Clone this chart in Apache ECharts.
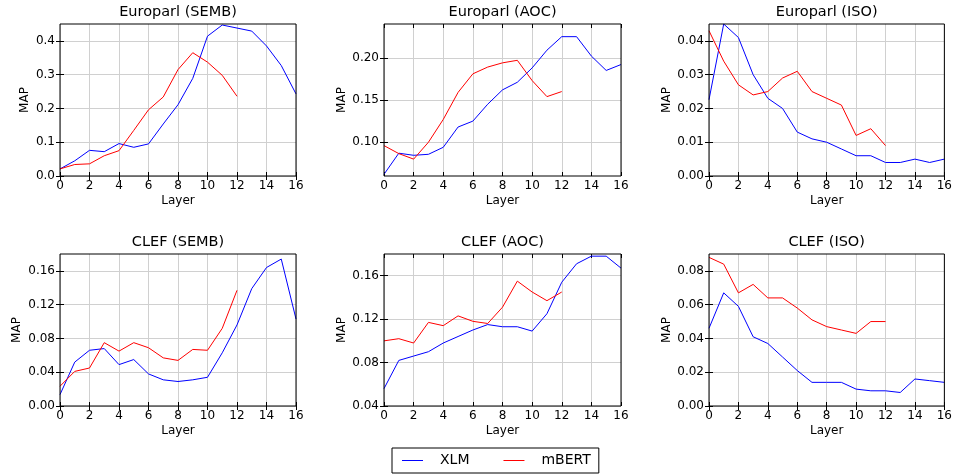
<!DOCTYPE html>
<html>
<head>
<meta charset="utf-8">
<title>MAP per layer</title>
<script src="https://cdn.jsdelivr.net/npm/echarts@6/dist/echarts.min.js"></script>
<style>
	html, body { margin: 0; padding: 0; background: #fff; }
	#main { width: 955px; height: 475px; }
</style>
</head>
<body>
<div id="main"></div>
<script>
var layersXLM = [0, 1, 2, 3, 4, 5, 6, 7, 8, 9, 10, 11, 12, 13, 14, 15, 16];
var layersBERT = [0, 1, 2, 3, 4, 5, 6, 7, 8, 9, 10, 11, 12];

var titles = ['Europarl (SEMB)', 'Europarl (AOC)', 'Europarl (ISO)', 'CLEF (SEMB)', 'CLEF (AOC)', 'CLEF (ISO)'];

// MAP per layer
var xlmEuroSemb = [0.021, 0.045, 0.076, 0.072, 0.096, 0.085, 0.095, 0.154, 0.211, 0.289, 0.414, 0.447, 0.438, 0.429, 0.385, 0.327, 0.243];
var bertEuroSemb = [0.021, 0.034, 0.036, 0.060, 0.075, 0.135, 0.196, 0.234, 0.315, 0.365, 0.337, 0.298, 0.236];
var xlmEuroAoc = [0.062, 0.087, 0.0845, 0.0857, 0.094, 0.118, 0.125, 0.145, 0.162, 0.171, 0.188, 0.209, 0.225, 0.225, 0.202, 0.185, 0.192];
var bertEuroAoc = [0.096, 0.0865, 0.080, 0.100, 0.127, 0.159, 0.181, 0.189, 0.194, 0.197, 0.173, 0.154, 0.160];
var xlmEuroIso = [0.0226, 0.045, 0.041, 0.030, 0.023, 0.020, 0.013, 0.011, 0.010, 0.008, 0.006, 0.006, 0.004, 0.004, 0.005, 0.004, 0.005];
var bertEuroIso = [0.043, 0.034, 0.027, 0.024, 0.025, 0.029, 0.031, 0.025, 0.023, 0.021, 0.012, 0.014, 0.009];
var xlmClefSemb = [0.0135, 0.052, 0.066, 0.068, 0.049, 0.055, 0.038, 0.031, 0.029, 0.031, 0.034, 0.063, 0.096, 0.139, 0.164, 0.174, 0.103];
var bertClefSemb = [0.0234, 0.041, 0.045, 0.075, 0.065, 0.075, 0.069, 0.057, 0.054, 0.067, 0.066, 0.092, 0.137];
var xlmClefAoc = [0.056, 0.082, 0.086, 0.090, 0.098, 0.104, 0.110, 0.115, 0.113, 0.113, 0.109, 0.125, 0.154, 0.171, 0.178, 0.178, 0.167];
var bertClefAoc = [0.100, 0.102, 0.098, 0.117, 0.114, 0.123, 0.118, 0.116, 0.131, 0.155, 0.145, 0.137, 0.145];
var xlmClefIso = [0.046, 0.067, 0.059, 0.041, 0.037, 0.029, 0.021, 0.014, 0.014, 0.014, 0.010, 0.009, 0.009, 0.008, 0.016, 0.015, 0.014];
var bertClefIso = [0.088, 0.084, 0.067, 0.072, 0.064, 0.064, 0.058, 0.051, 0.047, 0.045, 0.043, 0.050, 0.050];

// y tick labels of each panel
var yTicksEuroSemb = [0, 0.1, 0.2, 0.3, 0.4];
var yTicksEuroAoc = [0.10, 0.15, 0.20];
var yTicksEuroIso = [0, 0.01, 0.02, 0.03, 0.04];
var yTicksClefSemb = [0, 0.04, 0.08, 0.12, 0.16];
var yTicksClefAoc = [0.04, 0.08, 0.12, 0.16];
var yTicksClefIso = [0, 0.02, 0.04, 0.06, 0.08];

var xlmSets = [xlmEuroSemb, xlmEuroAoc, xlmEuroIso, xlmClefSemb, xlmClefAoc, xlmClefIso];
var bertSets = [bertEuroSemb, bertEuroAoc, bertEuroIso, bertClefSemb, bertClefAoc, bertClefIso];
var yTickSets = [yTicksEuroSemb, yTicksEuroAoc, yTicksEuroIso, yTicksClefSemb, yTicksClefAoc, yTicksClefIso];

// layout of the panels
var panels = [
	{ left: 60, top: 24, width: 236, height: 152, ymin: 0, ymax: 0.45, dec: 1, nameGap: 29 },
	{ left: 384, top: 24, width: 237, height: 152, ymin: 0.06, ymax: 0.24, dec: 2, nameGap: 36 },
	{ left: 709, top: 24, width: 236, height: 152, ymin: 0, ymax: 0.045, dec: 2, nameGap: 36 },
	{ left: 60, top: 254, width: 236, height: 152, ymin: 0, ymax: 0.18, dec: 2, nameGap: 37 },
	{ left: 384, top: 254, width: 237, height: 152, ymin: 0.04, ymax: 0.18, dec: 2, nameGap: 36 },
	{ left: 709, top: 254, width: 236, height: 152, ymin: 0, ymax: 0.09, dec: 2, nameGap: 36 }
];

var font = 'DejaVu Sans';
var gridColor = '#d0d0d0';

function pairs(xs, ys) {
	var out = [];
	for (var i = 0; i < ys.length; i++) out.push([xs[i], ys[i]]);
	return out;
}

var grid = [], xAxis = [], yAxis = [], series = [];
panels.forEach(function (p, i) {
	grid.push({
		left: p.left, top: p.top, width: p.width, height: p.height,
		show: true, z: 10, backgroundColor: 'transparent',
		borderColor: '#000', borderWidth: 1
	});
	var tick = { show: true, inside: true, length: 4, lineStyle: { color: '#000' } };
	// bottom axis
	xAxis.push({
		gridIndex: i, type: 'value', position: 'bottom', min: 0, max: 16, interval: 2,
		name: 'Layer', nameLocation: 'middle', nameGap: 19,
		nameTextStyle: { fontFamily: font, fontSize: 12, color: '#000' },
		axisLine: { show: false }, axisTick: tick,
		axisLabel: { fontFamily: font, fontSize: 12, color: '#000', margin: 4 },
		splitLine: { show: true, lineStyle: { color: gridColor, width: 1 } }
	});
	// top axis carries the panel title
	xAxis.push({
		gridIndex: i, type: 'value', position: 'top', min: 0, max: 16, interval: 2,
		name: titles[i], nameLocation: 'middle', nameGap: 4,
		nameTextStyle: { fontFamily: font, fontSize: 14.5, color: '#000' },
		axisLine: { show: false }, axisTick: tick,
		axisLabel: { show: false }, splitLine: { show: false }
	});
	var yt = yTickSets[i];
	yAxis.push({
		gridIndex: i, type: 'value', position: 'left', min: p.ymin, max: p.ymax,
		name: 'MAP', nameLocation: 'middle', nameGap: p.nameGap,
		nameTextStyle: { fontFamily: font, fontSize: 12, color: '#000' },
		axisLine: { show: false },
		axisTick: { show: true, inside: true, length: 4, lineStyle: { color: '#000' }, customValues: yt },
		axisLabel: {
			fontFamily: font, fontSize: 12, color: '#000', margin: 5, customValues: yt,
			formatter: (function (d) { return function (v) { return v.toFixed(d); }; })(p.dec)
		},
		splitLine: { show: true, lineStyle: { color: gridColor, width: 1 } }
	});
	yAxis.push({
		gridIndex: i, type: 'value', position: 'right', min: p.ymin, max: p.ymax,
		axisLine: { show: false },
		axisTick: { show: true, inside: true, length: 4, lineStyle: { color: '#000' }, customValues: yt },
		axisLabel: { show: false, customValues: yt }, splitLine: { show: false }
	});
	series.push({
		name: 'XLM', type: 'line', xAxisIndex: 2 * i, yAxisIndex: 2 * i,
		data: pairs(layersXLM, xlmSets[i]), symbol: 'none',
		lineStyle: { color: '#0000ff', width: 1 }, itemStyle: { color: '#0000ff' }
	});
	series.push({
		name: 'mBERT', type: 'line', xAxisIndex: 2 * i, yAxisIndex: 2 * i,
		data: pairs(layersBERT, bertSets[i]), symbol: 'none',
		lineStyle: { color: '#ff0000', width: 1 }, itemStyle: { color: '#ff0000' }
	});
});

var chart = echarts.init(document.getElementById('main'));
chart.setOption({
	animation: false,
	backgroundColor: '#fff',
	grid: grid,
	xAxis: xAxis,
	yAxis: yAxis,
	legend: {
		data: ['XLM', 'mBERT'],
		left: 392, top: 448,
		padding: [4, 8, 4, 10],
		borderColor: '#000', borderWidth: 1, borderRadius: 0,
		icon: 'rect',
		itemWidth: 21, itemHeight: 1, itemGap: 34,
		textStyle: { fontFamily: font, fontSize: 14, color: '#000', padding: [0, 0, 0, 12], lineHeight: 17 }
	},
	series: series
});
</script>
</body>
</html>
